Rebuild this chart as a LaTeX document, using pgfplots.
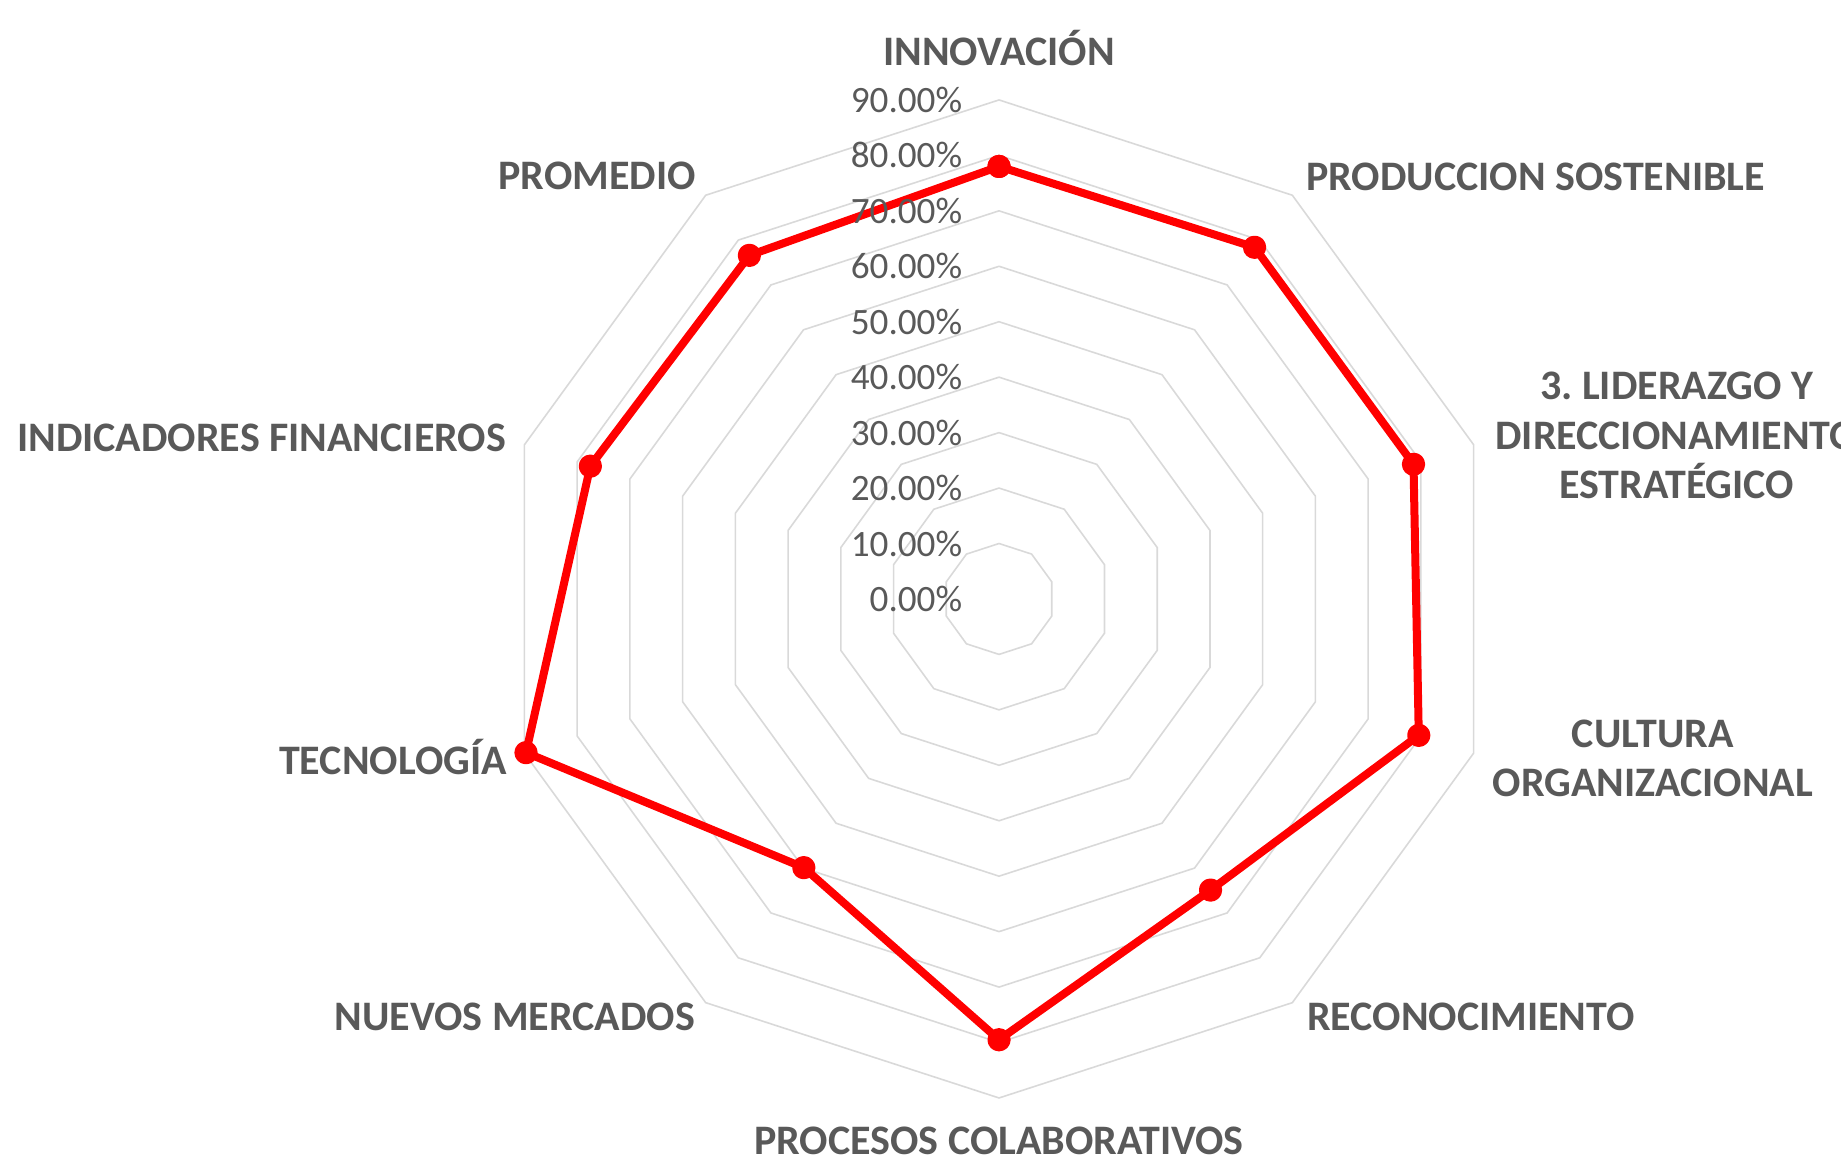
\documentclass[border=0pt]{standalone}
\usepackage{pgfplots}
\pgfplotsset{compat=1.18}
\usepackage{fontspec}
\setmainfont{Carlito}
\frenchspacing
\definecolor{lbl}{HTML}{595959}
\definecolor{gridc}{HTML}{D9D9D9}
\definecolor{serie}{HTML}{FF0000}
\begin{document}
\begin{tikzpicture}
\begin{axis}[
  hide axis,
  x=1.38611pt, y=1.38611pt,
  xmin=-180.18, xmax=151.86, ymin=-101.18, ymax=108.03,
  clip=false,
]
% grid (decagons)
\pgfplotsinvokeforeach{10,20,30,40,50,60,70,80,90}{
  \addplot[data cs=polar, gridc, line width=0.4pt, forget plot]
    coordinates {(90,#1) (54,#1) (18,#1) (-18,#1) (-54,#1) (-90,#1) (-126,#1) (-162,#1) (162,#1) (126,#1) (90,#1)};
}
% data
\addplot[data cs=polar, serie, line width=2pt, line join=round,
  mark=*, mark size=1.9pt, mark options={fill=serie, draw=serie}]
  coordinates {
    (90,78.0)   % INNOVACION
    (54,78.4)   % PRODUCCION SOSTENIBLE
    (18,78.6)   % LIDERAZGO
    (-18,79.6)  % CULTURA ORGANIZACIONAL
    (-54,64.9)  % RECONOCIMIENTO
    (-90,79.5)  % PROCESOS COLABORATIVOS
    (-126,59.9) % NUEVOS MERCADOS
    (-162,89.7) % TECNOLOGIA
    (162,77.5)  % INDICADORES FINANCIEROS
    (126,76.6)  % PROMEDIO
    (90,78.0)
  };
% radial tick labels
\pgfplotsinvokeforeach{0,10,20,30,40,50,60,70,80,90}{
  \node[anchor=east, text=lbl, font=\fontsize{9.3}{11}\selectfont, inner sep=0pt]
    at (axis cs:-6.5,#1) {#1.00\%};
}
% category labels
\tikzset{cat/.style={text=lbl, font=\fontsize{10.5}{12.3}\selectfont\bfseries, align=center, inner sep=0pt}}
\node[cat] at (axis cs:0,99.4) {INNOVACIÓN};
\node[cat] at (axis cs:96.8,76.1) {PRODUCCION SOSTENIBLE};
\node[cat] at (axis cs:122.2,29.5) {3. LIDERAZGO Y\\DIRECCIONAMIENTO\\ESTRATÉGICO};
\node[cat] at (axis cs:117.9,-28.7) {CULTURA\\ORGANIZACIONAL};
\node[cat] at (axis cs:85.1,-75.3) {RECONOCIMIENTO};
\node[cat] at (axis cs:0,-97.7) {PROCESOS COLABORATIVOS};
\node[cat] at (axis cs:-87.3,-75.3) {NUEVOS MERCADOS};
\node[cat] at (axis cs:-109.3,-28.5) {TECNOLOGÍA};
\node[cat] at (axis cs:-133.0,29.1) {INDICADORES FINANCIEROS};
\node[cat] at (axis cs:-72.5,76.3) {PROMEDIO};
\coordinate (bl) at (rel axis cs:0,0);
\coordinate (tr) at (rel axis cs:1,1);
\end{axis}
\pgfresetboundingbox
\path[use as bounding box] (bl) rectangle (tr);
\end{tikzpicture}
\end{document}
